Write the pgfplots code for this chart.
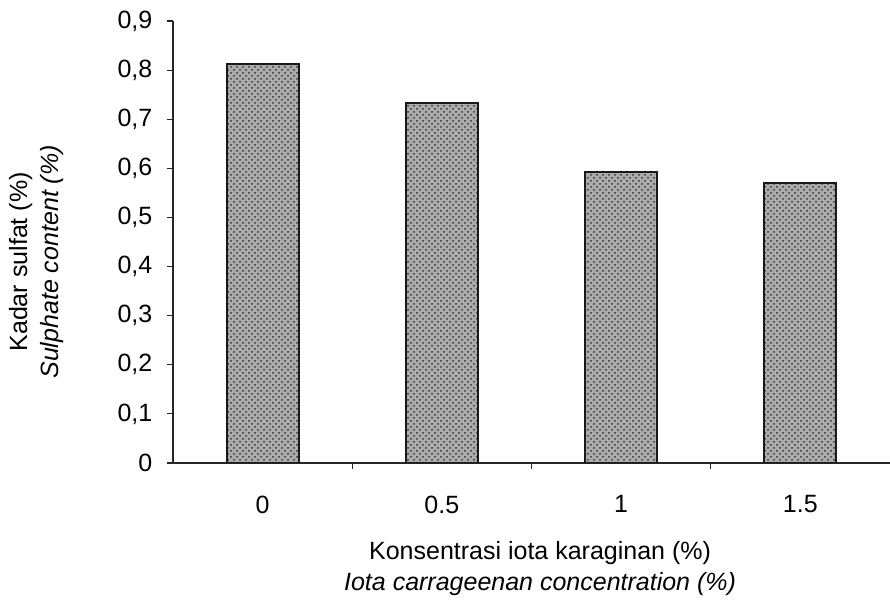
\documentclass[border=0pt]{standalone}
\usepackage{pgfplots}
\pgfplotsset{compat=1.18}
\usepackage{fontspec}
\setmainfont{Liberation Sans}
\usetikzlibrary{patterns}
\begin{document}
\fontsize{12.5pt}{15.5pt}\selectfont
\begin{tikzpicture}
\useasboundingbox (0,0) rectangle (445pt,302pt);
\begin{axis}[
  at={(86.5pt,70.5pt)}, anchor=south west,
  scale only axis, width=358.5pt, height=221pt,
  xmin=-0.5, xmax=3.5, ymin=0, ymax=0.9,
  axis x line=bottom, axis y line=left,
  axis line style={-, line width=0.9pt, black!85},
  /pgf/number format/assume math mode=true,
  font=\fontsize{12.5pt}{15.5pt}\selectfont,
  ytick={0,0.1,0.2,0.3,0.4,0.5,0.6,0.7,0.8,0.9},
  yticklabel style={/pgf/number format/use comma, /pgf/number format/fixed, /pgf/number format/precision=1},
  y tick label style={xshift=-3pt},
  y tick style={black!85, line width=0.6pt},
  ytick align=outside, major tick length=3pt,
  xtick={0,1,2,3}, xticklabels={0,0.5,1,1.5},
  x tick style={draw=none},
  xticklabel style={yshift=-9pt},
  extra x ticks={0.5,1.5,2.5}, extra x tick labels={},
  extra x tick style={x tick style={draw=black!85, line width=0.5pt}, xtick align=outside},
  ybar, bar width=36pt,
  xlabel={Konsentrasi iota karaginan (\%)\\\textit{Iota carrageenan concentration (\%)}},
  xlabel style={align=center, at={(axis description cs:0.512,-0.238)}, anchor=center},
  ylabel={Kadar sulfat (\%)\\\textit{Sulphate content (\%)}},
  ylabel style={align=center, at={(axis description cs:-0.191,0.455)}, anchor=center},
]
\addplot[draw=black!90, line width=0.9pt, fill=gray!65, postaction={pattern=crosshatch dots, pattern color=black!80}]
  coordinates {(0,0.813) (1,0.733) (2,0.593) (3,0.570)};
\end{axis}
\end{tikzpicture}
\end{document}
